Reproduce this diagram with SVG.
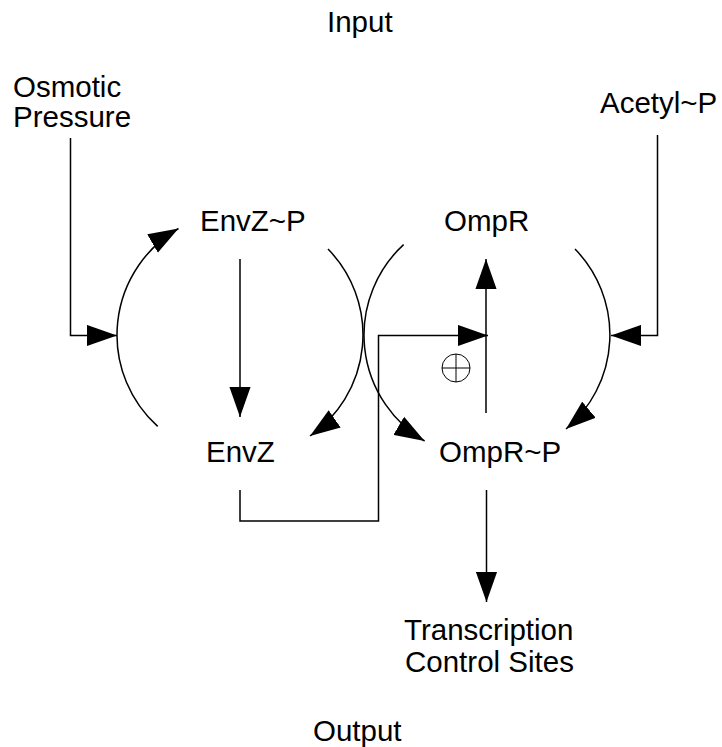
<svg xmlns="http://www.w3.org/2000/svg" width="722" height="747" viewBox="0 0 722 747">
  <defs>
    <marker id="arr" markerUnits="userSpaceOnUse" markerWidth="30" markerHeight="22" viewBox="0 0 27 19" refX="27" refY="9.5" orient="auto">
      <path d="M0,0 L27,9.5 L0,19 Z" fill="#000"/>
    </marker>
    <style>
      .t { font-family: "Liberation Sans", Arial, Helvetica, sans-serif; font-size: 29.5px; fill: #000; }
      .ln { fill: none; stroke: #000; stroke-width: 1.5; }
      .ar { fill: none; stroke: #000; stroke-width: 1.5; marker-end: url(#arr); }
    </style>
  </defs>
  <rect x="0" y="0" width="722" height="747" fill="#fff"/>

  <g id="input"><text class="t" x="327" y="32">Input</text></g>
  <g id="osmotic"><text class="t" x="13" y="97">Osmotic</text><text class="t" x="13" y="127">Pressure</text></g>
  <g id="acetyl"><text class="t" x="600" y="113">Acetyl~P</text></g>
  <g id="envzp"><text class="t" x="200" y="231">EnvZ~P</text></g>
  <g id="ompr"><text class="t" x="444" y="231">OmpR</text></g>
  <g id="envz"><text class="t" x="206" y="462">EnvZ</text></g>
  <g id="omprp"><text class="t" x="439" y="462">OmpR~P</text></g>
  <g id="transcription"><text class="t" x="404" y="640">Transcription</text><text class="t" x="405" y="672">Control Sites</text></g>
  <g id="output"><text class="t" x="313" y="741">Output</text></g>
  <g id="plus">
    <circle cx="456" cy="368" r="14" fill="none" stroke="#000" stroke-width="1"/>
    <line x1="442" y1="368" x2="470" y2="368" stroke="#000" stroke-width="1"/>
    <line x1="456" y1="354" x2="456" y2="382" stroke="#000" stroke-width="1"/>
  </g>

  <g id="connectors">
    <path class="ln" d="M157.7,426.4 A123,123 0 0 1 178.5,228.5" marker-end="url(#arr)"/>
    <path class="ln" d="M328,249 A123,123 0 0 1 310,436" marker-end="url(#arr)"/>
    <path class="ln" d="M403.6,244.6 A123,123 0 0 0 424.6,441" marker-end="url(#arr)"/>
    <path class="ln" d="M575,249 A123,123 0 0 1 566,429" marker-end="url(#arr)"/>
    <path class="ar" d="M70.5,138 V335.5 H117"/>
    <path class="ar" d="M657.5,135 V335.5 H611"/>
    <path class="ar" d="M240,259 V417"/>
    <path class="ar" d="M240,490 V521 H378.5 V335.5 H488"/>
    <path class="ar" d="M486,413 V259"/>
    <path class="ar" d="M486.5,490 V602"/>
  </g>
</svg>
